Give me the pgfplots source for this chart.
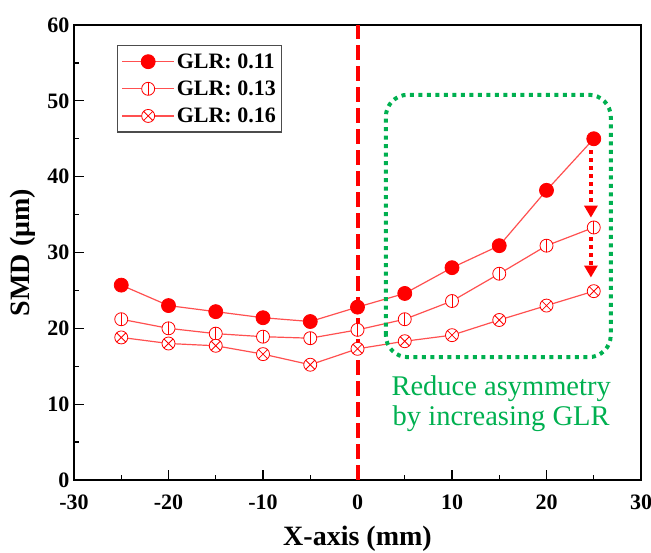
\documentclass[border=0pt]{standalone}
\usepackage{pgfplots}
\pgfplotsset{compat=1.18}
\usepackage{fontspec}
\setmainfont{Liberation Serif}
\usetikzlibrary{arrows.meta}
\definecolor{lred}{RGB}{255,80,80}
\definecolor{ogreen}{RGB}{0,176,80}
\pgfdeclareplotmark{obar}{%
  \pgfpathcircle{\pgfpointorigin}{\pgfplotmarksize}%
  \pgfusepathqfillstroke
  \pgfpathmoveto{\pgfqpoint{0pt}{-\pgfplotmarksize}}%
  \pgfpathlineto{\pgfqpoint{0pt}{\pgfplotmarksize}}%
  \pgfusepathqstroke}
\begin{document}
\begin{tikzpicture}
\begin{axis}[
  scale only axis, width=567bp, height=455bp,
  xmin=-30, xmax=30, ymin=0, ymax=60,
  xtick={-30,-20,-10,0,10,20,30},
  xticklabels={-30,-20,-10,0,10,20,30},
  ytick={0,10,20,30,40,50,60},
  yticklabels={0,10,20,30,40,50,60},
  minor x tick num=1, minor y tick num=1,
  tick align=inside, xtick pos=bottom, ytick pos=left,
  major tick length=10bp, minor tick length=5bp,
  axis line style={line width=1.3bp}, tick style={line width=1.2bp, black},
  ticklabel style={font=\bfseries\fontsize{22bp}{26bp}\selectfont},
  xticklabel style={yshift=-15bp, inner ysep=0pt, text depth=0pt},
  yticklabel style={xshift=-1bp, inner ysep=0pt, text depth=0pt},
  xlabel={X-axis (mm)}, ylabel={SMD (μm)},
  label style={font=\bfseries\fontsize{28bp}{32bp}\selectfont},
  xlabel style={at={(axis description cs:0.5,-0.13)}, anchor=center},
  ylabel style={at={(axis description cs:-0.09,0.5)}, anchor=center},
  legend style={at={(axis description cs:0.0758,0.956)}, anchor=north west,
    font=\bfseries\fontsize{22bp}{26bp}\selectfont, draw=black!70, line width=1.2bp,
    row sep=3bp, inner xsep=4bp, inner ysep=4bp,
    nodes={inner ysep=4bp}},
  legend cell align=left,
  legend image code/.code={\draw[mark repeat=2,mark phase=2] plot coordinates {(0bp,0bp) (26bp,0bp) (52bp,0bp)};},
]
\addplot[lred, line width=1.2bp, mark=*, mark size=7bp, mark options={red, solid, fill=red, line width=0.8bp}]
coordinates {(-25,25.7) (-20,23.0) (-15,22.2) (-10,21.4) (-5,20.9) (0,22.8) (5,24.6) (10,28.0) (15,30.9) (20,38.2) (25,45.0)};
\addlegendentry{GLR: 0.11}
\addplot[lred, line width=1.2bp, mark=obar, mark size=6.5bp, mark options={red, solid, fill=white, line width=0.8bp}]
coordinates {(-25,21.2) (-20,20.0) (-15,19.3) (-10,18.9) (-5,18.7) (0,19.8) (5,21.2) (10,23.6) (15,27.2) (20,30.9) (25,33.3)};
\addlegendentry{GLR: 0.13}
\addplot[lred, line width=1.2bp, mark=otimes*, mark size=6.5bp, mark options={red, solid, fill=white, line width=0.8bp}]
coordinates {(-25,18.8) (-20,18.0) (-15,17.7) (-10,16.6) (-5,15.2) (0,17.3) (5,18.3) (10,19.1) (15,21.1) (20,23.0) (25,24.9)};
\addlegendentry{GLR: 0.16}
\draw[red, line width=4bp, dash pattern=on 15bp off 6bp] (axis cs:0,0) -- (axis cs:0,60);
\draw[ogreen, line width=4bp, dash pattern=on 4bp off 4.5bp, rounded corners=22bp] (axis cs:3.0,16.2) rectangle (axis cs:26.8,50.8);
\draw[red, line width=4bp, dash pattern=on 4bp off 4bp, -{Triangle[width=13bp,length=12bp]}] (axis cs:24.7,43.5) -- (axis cs:24.7,34.6);
\draw[red, line width=4bp, dash pattern=on 4bp off 4bp, -{Triangle[width=13bp,length=12bp]}] (axis cs:24.7,32.0) -- (axis cs:24.7,26.7);
\node[ogreen, font=\fontsize{28.5bp}{30bp}\selectfont, align=center, anchor=center] at (axis cs:15.2,10.1) {Reduce asymmetry\\by increasing GLR};
\coordinate (bl) at (rel axis cs:0,0);
\coordinate (tr) at (rel axis cs:1,1);
\end{axis}
\pgfresetboundingbox
\path ([shift={(-74bp,-72bp)}]bl) rectangle ([shift={(10bp,25bp)}]tr);
\end{tikzpicture}
\end{document}
